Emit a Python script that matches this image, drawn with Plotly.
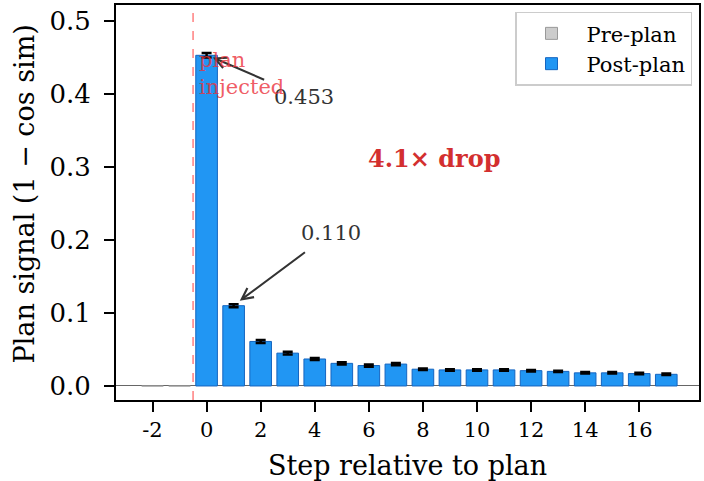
import plotly.graph_objects as go

# ---- data ----
pre_steps = [-2, -1]
pre_values = [0.0, 0.0]
post_steps = list(range(0, 18))
post_values = [0.453, 0.110, 0.061, 0.045, 0.037, 0.031, 0.028, 0.030, 0.023,
               0.022, 0.022, 0.022, 0.021, 0.020, 0.018, 0.018, 0.017, 0.016]
post_errors = [0.003, 0.002, 0.002, 0.002, 0.0015, 0.0015, 0.0015, 0.0015, 0.001,
               0.001, 0.001, 0.001, 0.001, 0.001, 0.001, 0.001, 0.001, 0.001]
x_tick_vals = [-2, 0, 2, 4, 6, 8, 10, 12, 14, 16]
x_tick_text = ["-2", "0", "2", "4", "6", "8", "10", "12", "14", "16"]
y_tick_vals = [0.0, 0.1, 0.2, 0.3, 0.4, 0.5]
y_tick_text = ["0.0", "0.1", "0.2", "0.3", "0.4", "0.5"]
drop_label = "4.1× drop"
y_title = "Plan signal (1 − cos sim)"
x_title = "Step relative to plan"

FONT = "DejaVu Serif"

fig = go.Figure()
fig.add_trace(go.Bar(
    x=pre_steps, y=pre_values, name="Pre-plan", width=0.8,
    marker=dict(color="#cccccc", line=dict(color="#999999", width=1)),
))
fig.add_trace(go.Bar(
    x=post_steps, y=post_values, name="Post-plan", width=0.8,
    marker=dict(color="#2196F3", line=dict(color="#1565C0", width=1)),
    error_y=dict(type="data", array=post_errors, color="black", thickness=2.5, width=5),
))

fig.add_shape(type="line", xref="x", yref="paper", x0=-0.5, x1=-0.5, y0=0, y1=1,
              line=dict(color="rgba(255,0,0,0.5)", width=1.5, dash="dash"))

ann_font = dict(family=FONT, size=21, color="#333333")
fig.add_annotation(x=0.23, y=0.450, ax=3.62, ay=0.3956, axref="x", ayref="y",
                   text="0.453", showarrow=True, arrowhead=5, arrowsize=1.1,
                   arrowwidth=2, arrowcolor="#333333", startstandoff=10, font=ann_font)
fig.add_annotation(x=1.227, y=0.1168, ax=4.606, ay=0.2098, axref="x", ayref="y",
                   text="0.110", showarrow=True, arrowhead=5, arrowsize=1.1,
                   arrowwidth=2, arrowcolor="#333333", startstandoff=10, font=ann_font)
fig.add_annotation(x=-0.35, y=0.466, xanchor="left", yanchor="top", align="left",
                   text="plan<br>injected", showarrow=False,
                   font=dict(family=FONT, size=21, color="rgba(235,50,60,0.8)"))
fig.add_annotation(x=8.41, y=0.311, text="<b>" + drop_label + "</b>", showarrow=False,
                   font=dict(family=FONT, size=24, color="#d32f2f"))
# y-axis title as rotated annotation (placed like the reference)
fig.add_annotation(xref="paper", yref="paper", x=-0.157, y=0.5215, text=y_title,
                   xanchor="center", yanchor="middle",
                   textangle=-90, showarrow=False, font=dict(family=FONT, size=27))

fig.update_layout(
    width=704, height=481,
    margin=dict(l=116, r=3, t=5, b=81),
    plot_bgcolor="white", paper_bgcolor="white",
    font=dict(family=FONT, color="black"),
    barmode="overlay",
    showlegend=True,
    legend=dict(x=0.988, y=0.983, xanchor="right", yanchor="top",
                bordercolor="#cccccc", borderwidth=1.5, bgcolor="white",
                font=dict(family=FONT, size=21), tracegroupgap=0, itemwidth=60),
)
fig.update_xaxes(
    range=[-3.35, 18.21], tickmode="array", tickvals=x_tick_vals, ticktext=x_tick_text,
    showline=True, linecolor="black", linewidth=2, mirror=True,
    ticks="outside", ticklen=10, tickwidth=1.5, tickcolor="black",
    showgrid=False, zeroline=False,
    tickfont=dict(family=FONT, size=21),
    title=dict(text=x_title, font=dict(family=FONT, size=27), standoff=15),
)
fig.update_yaxes(
    range=[-0.0192, 0.5219], tickmode="array", tickvals=y_tick_vals, ticktext=y_tick_text,
    showline=True, linecolor="black", linewidth=2, mirror=True,
    ticks="outside", ticklen=10, tickwidth=1.5, tickcolor="black",
    ticklabelstandoff=8,
    showgrid=False, zeroline=True, zerolinecolor="#666666", zerolinewidth=1,
    tickfont=dict(family=FONT, size=26),
)

fig.write_html("out.html", post_script="document.body.style.margin='0';",
               config={"displayModeBar": False})
